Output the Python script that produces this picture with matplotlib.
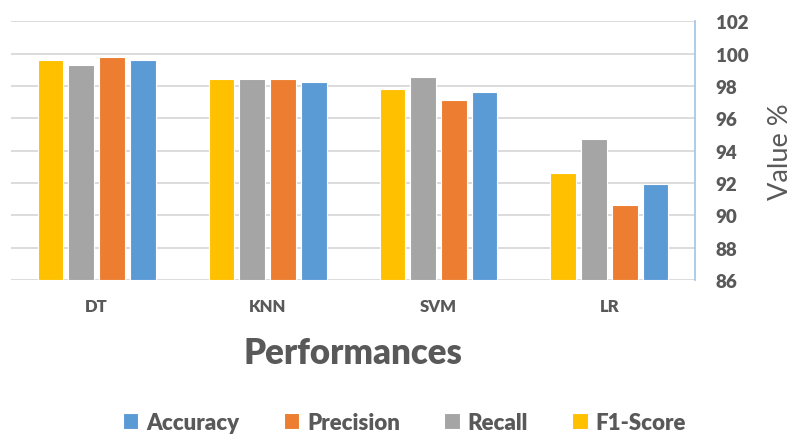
import matplotlib.pyplot as plt
import numpy as np

plt.rcParams['font.family'] = ['Lato', 'DejaVu Sans']

models = ['DT', 'KNN', 'SVM', 'LR']
f1_score = [99.57, 98.40, 97.78, 92.62]
recall = [99.32, 98.40, 98.56, 94.71]
precision = [99.79, 98.40, 97.11, 90.63]
accuracy = [99.57, 98.25, 97.64, 91.94]

# drawn left to right in each group: F1, Recall, Precision, Accuracy
series = [
    ('F1-Score', f1_score, '#FFC000'),
    ('Recall', recall, '#A5A5A5'),
    ('Precision', precision, '#ED7D31'),
    ('Accuracy', accuracy, '#5B9BD5'),
]

txt = '#595959'
fig = plt.figure(figsize=(7.96, 4.35), dpi=100)
ax = fig.add_axes([0.014, 0.354, 0.859, 0.595])

x = np.arange(len(models))
step = 0.18
width = 0.15
bars = {}
for i, (name, vals, col) in enumerate(series):
    off = (i - 1.5) * step
    bars[name] = ax.bar(x + off, np.array(vals) - 86, width, bottom=86,
                        color=col, edgecolor='white', linewidth=0.8, zorder=3)

ax.set_xlim(-0.5, 3.5)
ax.set_ylim(86, 102)
ax.set_yticks(np.arange(86, 103, 2))
ax.yaxis.tick_right()
ax.yaxis.set_label_position('right')
ax.grid(axis='y', color='#D9D9D9', linewidth=1.3, zorder=0)
for s in ['top', 'left', 'bottom']:
    ax.spines[s].set_visible(False)
ax.spines['right'].set_color('#9DC3E6')
ax.spines['right'].set_linewidth(1.2)
ax.tick_params(axis='y', length=0, pad=15, labelsize=13.5, labelcolor=txt)
ax.tick_params(axis='x', length=0, pad=13, labelsize=12, labelcolor=txt)
ax.set_xticks(x)
ax.set_xticklabels(models, fontweight='heavy')
for lab in ax.get_yticklabels():
    lab.set_fontweight('heavy')

ax.set_ylabel('Value %', fontsize=19.5, color=txt, labelpad=14)
ax.set_xlabel('Performances', fontsize=25, fontweight='heavy', color=txt, labelpad=16)

order = ['Accuracy', 'Precision', 'Recall', 'F1-Score']
leg = fig.legend([bars[n] for n in order], order, loc='center', ncol=4,
                 bbox_to_anchor=(0.508, 0.027), frameon=False, fontsize=16,
                 handlelength=0.7, handleheight=0.7, handletextpad=0.35,
                 columnspacing=2.0)
for t in leg.get_texts():
    t.set_color(txt)
    t.set_fontweight('heavy')

fig.savefig('out.png', dpi=100)
